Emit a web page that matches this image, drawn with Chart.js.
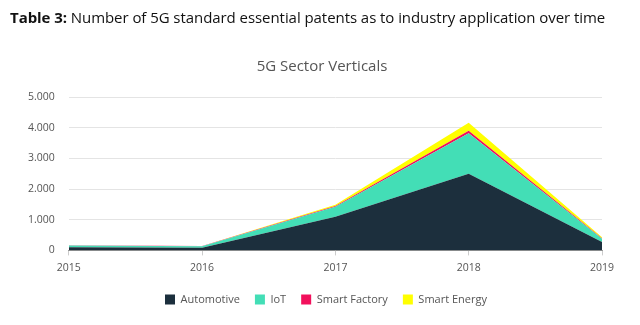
<!DOCTYPE html>
<html>
<head>
<meta charset="utf-8">
<script src="https://cdn.jsdelivr.net/npm/chart.js@4"></script>
<style>
html,body{margin:0;padding:0;background:#fff;}
#wrap{position:relative;width:640px;height:325px;}
#hdr{position:absolute;left:10px;top:7px;font-family:"Open Sans",sans-serif;font-size:15px;color:#111;white-space:nowrap;letter-spacing:-0.06px;}
#hdr b{font-weight:700;}
#ttl{position:absolute;left:0;width:644px;top:55px;text-align:center;font-family:"Open Sans",sans-serif;font-size:15px;color:#555;}
canvas{position:absolute;left:0;top:0;}
</style>
</head>
<body>
<div id="wrap">
<canvas id="c" width="640" height="325"></canvas>
<div id="hdr"><b>Table 3:</b> Number of 5G standard essential patents as to industry application over time</div>
<div id="ttl">5G Sector Verticals</div>
</div>
<script>
const years = ['2015','2016','2017','2018','2019'];
const automotive = [100, 90, 1100, 2500, 270];
const iot = [60, 45, 320, 1320, 110];
const smartFactory = [5, 5, 30, 80, 15];
const smartEnergy = [5, 5, 40, 260, 30];
const yTicks = [0, 1000, 2000, 3000, 4000, 5000];

function fmt(v){ return String(v).replace(/\B(?=(\d{3})+(?!\d))/g, '.'); }

const mk = (label, data, color, fill) => ({
  label, data, backgroundColor: color, borderColor: color,
  borderWidth: 0, pointRadius: 0, tension: 0, fill
});

const legendShift = {
  id: 'legendShift',
  afterLayout(chart) {
    const l = chart.legend;
    l.left += 18; l.right += 18;
    l.top -= 1; l.bottom -= 1;
  }
};

new Chart(document.getElementById('c'), {
  type: 'line',
  data: {
    labels: years,
    datasets: [
      mk('Automotive', automotive, '#1c2f3d', 'origin'),
      mk('IoT', iot, '#43deb6', '-1'),
      mk('Smart Factory', smartFactory, '#f2105c', '-1'),
      mk('Smart Energy', smartEnergy, '#ffff00', '-1')
    ]
  },
  plugins: [legendShift],
  options: {
    responsive: false,
    animation: false,
    layout: { padding: { left: 14, right: 38, top: 97, bottom: 9 } },
    plugins: {
      title: { display: false },
      legend: {
        position: 'bottom',
        labels: {
          boxWidth: 10, boxHeight: 10, padding: 15, color: '#555',
          font: { family: 'Open Sans', size: 11 }
        }
      },
      tooltip: { enabled: false }
    },
    scales: {
      x: {
        offset: false,
        grid: { drawOnChartArea: false, drawTicks: true, tickLength: 5, color: '#ccc' },
        border: { color: '#999' },
        ticks: { color: '#555', font: { family: 'Open Sans', size: 10.5 }, padding: 6, maxRotation: 0 }
      },
      y: {
        stacked: true,
        min: 0, max: 5000,
        afterBuildTicks: s => { s.ticks = yTicks.map(v => ({ value: v })); },
        grid: { color: '#e4e4e4', drawTicks: false },
        border: { display: false },
        ticks: { color: '#555', font: { family: 'Open Sans', size: 10.5 }, padding: 14, callback: v => fmt(v) }
      }
    }
  }
});
</script>
</body>
</html>
